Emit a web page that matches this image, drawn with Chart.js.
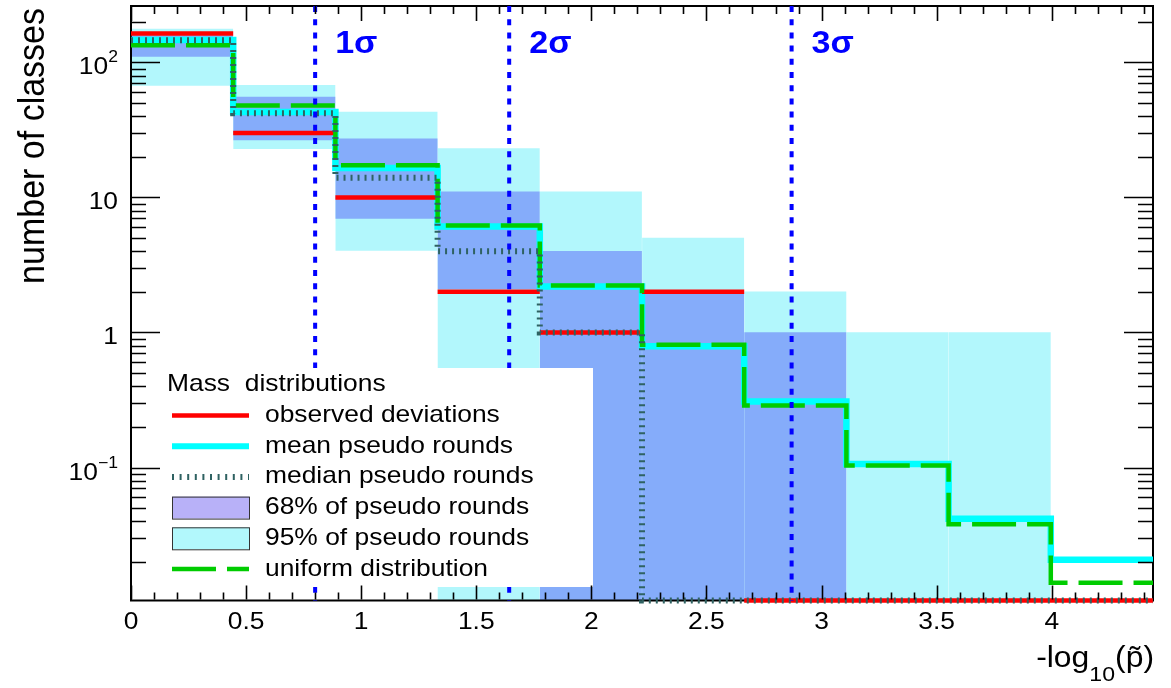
<!DOCTYPE html>
<html>
<head>
<meta charset="utf-8">
<script src="https://cdn.jsdelivr.net/npm/chart.js@4.4.1/dist/chart.umd.min.js"></script>
<style>
  html, body { margin: 0; padding: 0; background: #fff; }
</style>
</head>
<body>
<canvas id="chart" width="1171" height="688"></canvas>
<script>
// bins of -log10(p~)
const binEdges = [0, 0.444, 0.888, 1.332, 1.776, 2.22, 2.664, 3.108, 3.552, 3.996, 4.44];

// number of classes per bin
const observed = [164, 30, 10, 2, 1, 2, 0, 0, 0, 0];
const meanPseudo = [147, 43, 16.5, 6.1, 2.19, 0.79, 0.308, 0.106, 0.0418, 0.0207];
const medianPseudo = [146, 42, 14, 4, 1, 0, 0, 0, 0, 0];
const uniform = [134, 48, 17.3, 6.2, 2.23, 0.81, 0.288, 0.1034, 0.038, 0.014];
const band68Low = [111, 26.7, 7, 2.1, 0, 0, 0, 0, 0, 0];
const band68High = [158, 55.5, 27.2, 11, 4, 2, 1, 0, 0, 0];
const band95Low = [67.6, 23, 4.05, 0, 0, 0, 0, 0, 0, 0];
const band95High = [177, 67.6, 43, 23, 11, 5, 2, 1, 1, 0];

// significance lines
const sigmaX = [0.8, 1.643, 2.87];
const sigmaLabels = ["1σ", "2σ", "3σ"];

const xTicks = [0, 0.5, 1, 1.5, 2, 2.5, 3, 3.5, 4];
const xTickLabels = ["0", "0.5", "1", "1.5", "2", "2.5", "3", "3.5", "4"];
const yTicks = [0.1, 1, 10, 100];
const yTickLabels = [["10", "\u22121"], ["1", ""], ["10", ""], ["10", "2"]];

const yMin = 0.01035, yMax = 262;

const FONT = "'Liberation Sans', Arial, sans-serif";
const SX = 1.1; // text is a bit wide in the original

const centers = binEdges.slice(0, -1).map((e, i) => (e + binEdges[i + 1]) / 2);

// log axis can't show 0, put empty bins on the floor
const floorY = (v) => (v > 0 ? v : yMin);

function bandData(lo, hi) {
  return centers.map((c, i) => ({ x: c, y: hi[i] > 0 ? [floorY(lo[i]), hi[i]] : null }));
}

// flat top per bin, verticals joining the bins unless flatOnly
function histPoints(vals, flatOnly) {
  var pts = [];
  vals.forEach((v, i) => {
    if (flatOnly && i > 0) pts.push({ x: binEdges[i], y: null });
    pts.push({ x: binEdges[i], y: floorY(v) }, { x: binEdges[i + 1], y: floorY(v) });
  });
  return pts;
}

function txt(ctx, s, x, y, font, align, color) {
  ctx.save();
  ctx.font = font;
  ctx.fillStyle = color || "#000";
  var w = ctx.measureText(s).width * SX;
  var x0 = align === "right" ? x - w : align === "center" ? x - w / 2 : x;
  ctx.translate(x0, y);
  ctx.scale(SX, 1);
  ctx.textAlign = "left";
  ctx.textBaseline = "alphabetic";
  ctx.fillText(s, 0, 0);
  ctx.restore();
  return w;
}

function lineSym(ctx, y, color, width, dash) {
  ctx.save();
  ctx.strokeStyle = color;
  ctx.lineWidth = width;
  ctx.setLineDash(dash);
  ctx.beginPath();
  ctx.moveTo(172, y);
  ctx.lineTo(249, y);
  ctx.stroke();
  ctx.restore();
}

function boxSym(ctx, y, color) {
  ctx.save();
  ctx.fillStyle = color;
  ctx.fillRect(172, y - 11, 77, 22);
  ctx.strokeStyle = "#333";
  ctx.lineWidth = 1;
  ctx.strokeRect(172.5, y - 10.5, 77, 22);
  ctx.restore();
}

const legendEntries = [
  { label: "observed deviations", draw: (c, y) => lineSym(c, y, "#ff0000", 4.5, []) },
  { label: "mean pseudo rounds", draw: (c, y) => lineSym(c, y, "#00ffff", 6, []) },
  { label: "median pseudo rounds", draw: (c, y) => lineSym(c, y, "#2f6262", 6, [2, 5.6]) },
  { label: "68% of pseudo rounds", draw: (c, y) => boxSym(c, y, "#b8b1f8") },
  { label: "95% of pseudo rounds", draw: (c, y) => boxSym(c, y, "#b2f8fc") },
  { label: "uniform distribution", draw: (c, y) => lineSym(c, y, "#00cc00", 4.5, [44, 11]) },
];

const rootFrame = {
  id: "rootFrame",
  // frame goes under the histogram lines, over the bands
  beforeDatasetDraw(chart, args) {
    if (args.index !== 2) return;
    const ctx = chart.ctx;
    const a = chart.chartArea;
    ctx.save();
    ctx.strokeStyle = "#000";
    ctx.lineWidth = 2;
    ctx.strokeRect(a.left, a.top, a.right - a.left, a.bottom - a.top);
    ctx.restore();
  },
  afterDatasetsDraw(chart) {
    const ctx = chart.ctx;
    const a = chart.chartArea;
    const xs = chart.scales.x;
    const ys = chart.scales.y;

    // sigma lines and labels
    ctx.save();
    ctx.strokeStyle = "#0000ff";
    ctx.lineWidth = 4;
    ctx.setLineDash([6, 7.2]);
    sigmaX.forEach((s, i) => {
      var px = xs.getPixelForValue(s);
      ctx.beginPath();
      ctx.moveTo(px, a.top);
      ctx.lineTo(px, a.bottom);
      ctx.stroke();
      txt(ctx, sigmaLabels[i], px + 20, 53, "bold 31px " + FONT, "left", "#0000ff");
    });
    ctx.restore();

    // legend
    ctx.save();
    ctx.fillStyle = "#fff";
    ctx.fillRect(133, 368, 460, 219);
    ctx.restore();
    txt(ctx, "Mass  distributions", 167, 391, "24px " + FONT, "left");
    legendEntries.forEach((e, i) => {
      var base = 422 + 30.7 * i;
      e.draw(ctx, base - 6.5);
      txt(ctx, e.label, 265, base, "24px " + FONT, "left");
    });

    // ticks
    ctx.save();
    ctx.strokeStyle = "#000";
    ctx.lineWidth = 1.6;
    ctx.beginPath();
    // x ticks, bottom and top
    for (var k = 0; k <= 44; k++) {
      var v = k / 10;
      var px = Math.round(xs.getPixelForValue(v)) + 0.5;
      var len = k % 5 === 0 ? 15 : 8;
      ctx.moveTo(px, a.bottom - 1); ctx.lineTo(px, a.bottom - len);
      ctx.moveTo(px, a.top); ctx.lineTo(px, a.top + len);
    }
    // y ticks, left and right
    for (var d = -2; d <= 2; d++) {
      for (var m = 1; m <= 9; m++) {
        var val = m * Math.pow(10, d);
        if (val < ys.min || val > ys.max) continue;
        var py = Math.round(ys.getPixelForValue(val)) + 0.5;
        var l2 = m === 1 ? 29 : 15;
        ctx.moveTo(a.left, py); ctx.lineTo(a.left + l2, py);
        ctx.moveTo(a.right, py); ctx.lineTo(a.right - l2, py);
      }
    }
    ctx.stroke();
    ctx.restore();

    // tick labels
    xTicks.forEach((v, i) => {
      txt(ctx, xTickLabels[i], xs.getPixelForValue(v), 629, "24px " + FONT, "center");
    });
    yTicks.forEach((v, i) => {
      var py = ys.getPixelForValue(v);
      var right = 118;
      var sup = yTickLabels[i][1];
      if (sup) {
        var ws = txt(ctx, sup, right, py, "16px " + FONT, "right");
        right -= ws;
      }
      txt(ctx, yTickLabels[i][0], right, py + 12, "24px " + FONT, "right");
    });

    // axis titles
    ctx.save();
    ctx.translate(44, 8);
    ctx.rotate(-Math.PI / 2);
    ctx.scale(1, SX);
    ctx.font = "34px " + FONT;
    ctx.fillStyle = "#000";
    ctx.textAlign = "right";
    ctx.textBaseline = "alphabetic";
    ctx.fillText("number of classes", 0, 0);
    ctx.restore();

    var xr = 1154;
    xr -= txt(ctx, "(p\u0303)", xr, 667, "29px " + FONT, "right");
    xr -= txt(ctx, "10", xr, 681, "21px " + FONT, "right");
    txt(ctx, "-log", xr, 667, "29px " + FONT, "right");
  }
};

const ctx = document.getElementById("chart").getContext("2d");
const myChart = new Chart(ctx, {
  type: "bar",
  data: {
    datasets: [
      {
        label: "95% of pseudo rounds",
        data: bandData(band95Low, band95High),
        backgroundColor: "#b2f7fc",
        borderWidth: 0,
        grouped: false,
        categoryPercentage: 1,
        barPercentage: 1,
        order: 6,
      },
      {
        label: "68% of pseudo rounds",
        data: bandData(band68Low, band68High),
        backgroundColor: "#85acfa",
        borderWidth: 0,
        grouped: false,
        categoryPercentage: 1,
        barPercentage: 1,
        order: 5,
      },
      {
        type: "line",
        label: "mean pseudo rounds",
        data: histPoints(meanPseudo, false),
        borderColor: "#00ffff",
        borderWidth: 6.5,
        pointRadius: 0,
        fill: false,
        clip: 6,
        order: 4,
      },
      {
        type: "line",
        label: "observed deviations",
        data: histPoints(observed, true),
        borderColor: "#ff0000",
        borderWidth: 4.5,
        pointRadius: 0,
        fill: false,
        clip: 6,
        order: 3,
      },
      {
        type: "line",
        label: "uniform distribution",
        data: histPoints(uniform, false),
        borderColor: "#00cc00",
        borderWidth: 4.5,
        borderDash: [44, 11],
        pointRadius: 0,
        fill: false,
        clip: 6,
        order: 2,
      },
      {
        type: "line",
        label: "median pseudo rounds",
        data: histPoints(medianPseudo, false),
        borderColor: "#2f6262",
        borderWidth: 6,
        borderDash: [2, 5],
        pointRadius: 0,
        fill: false,
        clip: 6,
        order: 1,
      },
    ],
  },
  options: {
    responsive: false,
    animation: false,
    layout: { padding: { left: 131, top: 6, right: 18, bottom: 87.5 } },
    plugins: { legend: { display: false }, tooltip: { enabled: false } },
    scales: {
      x: { type: "linear", min: 0, max: 4.44, offset: false, display: false },
      y: { type: "logarithmic", min: yMin, max: yMax, display: false },
    },
  },
  plugins: [rootFrame],
});
</script>
</body>
</html>
